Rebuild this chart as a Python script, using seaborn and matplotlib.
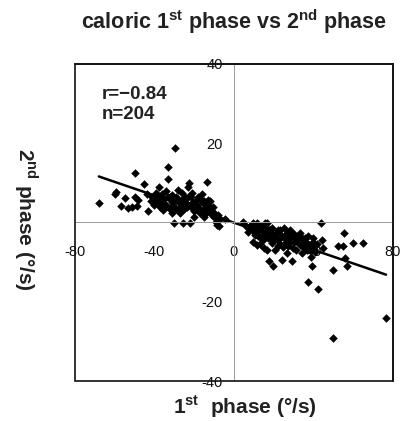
import matplotlib
matplotlib.use("Agg")
import matplotlib.pyplot as plt
import numpy as np
import pandas as pd
import seaborn as sns
from matplotlib.patches import Rectangle

# first phase (deg/s) and second phase (deg/s)
phase1_left = [
    -68, -60, -59.4, -57, -54.9, -53.2, -51.5, -49.8, -49.8, -49, -48.2, -45.3,
    -44, -43.1, -41.4, -39.8, -38.6, -37.6, -37.2, -36.4, -35.9, -33.4, -33.4,
    -32.2, -31.4, -30.5, -30, -29.7, -29.2, -28, -27.2, -26.3, -25.8, -24.7,
    -23.8, -23, -22.5, -22.1, -21.8, -21.3, -20.5, -19.6, -18.8, -18, -17.1,
    -16.3, -15.4, -14.6, -13.4, -12.9, -12.1, -11.2, -10.4, -10.1, -9.1, -8.4,
    -7.6, -7, -4.5,
    -42, -40, -39, -38, -37, -36, -35, -34, -34, -33, -32, -31, -30, -29, -28,
    -27, -26, -25, -24, -23, -22, -21, -20, -19, -18, -17, -16, -15, -14, -13,
    -12, -11, -10, -9, -8, -35.5, -31, -27, -20, -15,
]
phase2_left = [
    5.0, 7.3, 7.8, 4.2, 6.3, 3.6, 4.0, 12.5, 6.5, 4.1, 5.7, 9.8,
    7.3, 3.0, 6.5, 6.1, 5.2, 9.0, 4.0, 7.3, 3.1, 14.0, 11.1,
    6.5, 5.2, 4.4, -0.2, 18.8, 6.5, 8.2, 4.0, 5.7, -0.2, 6.5,
    4.0, 9.0, 10.0, -0.2, 6.5, 3.6, 5.2, 3.1, 4.4, 6.5, 2.3,
    7.3, 4.8, 3.6, 10.3, 5.7, 3.1, 1.9, 4.0, 1.5, 0.2, -0.6,
    -1.0, 1.0, 0.8,
    5.5, 4.5, 7.5, 6.5, 5.5, 5.0, 6.0, 4.5, 8.0, 6.5, 3.5, 7.0, 5.5, 3.5, 6.0,
    5.0, 7.5, 3.5, 5.0, 6.5, 4.5, 7.5, 3.0, 5.5, 4.0, 6.0, 3.0, 5.5, 2.5, 4.5,
    5.5, 3.0, 2.5, 1.5, 2.0, 3.5, 2.5, 2.5, 1.5, 1.5,
]
phase1_right = [
    4.7, 8.9, 9.4, 9.7, 10.6, 11.4, 11.7, 12.2, 13.1, 13.9, 14.8, 15.6, 16.1,
    16.4, 16.8, 17.3, 17.8, 18.1, 19, 19.5, 19.8, 20.6, 21.5, 22.3, 23.2, 24,
    24.8, 25.7, 26.5, 27.3, 27.9, 28.2, 29, 29.9, 30.7, 31.5, 33.2, 34.1, 34.9,
    35.7, 36.6, 37.4, 37.9, 38.6, 39.1, 39.6, 40.3, 42.4, 43.6, 44.1, 44.6,
    49.7, 49.7, 52.5, 54.7, 55.5, 55.9, 56.7, 59.7, 64.8, 76.5,
    6, 7, 8, 10, 11, 12, 13, 14, 15, 16, 17, 18, 19, 20, 21, 22, 23, 24, 25,
    26, 27, 28, 29, 30, 31, 32, 33, 34, 35, 36, 37, 38, 39, 40, 41, 42, 13, 15,
    18, 22, 26, 30,
]
phase2_right = [
    0.0, -1.9, -0.2, -4.8, -3.1, -0.2, -5.7, -1.9, -3.6, -1.0, -4.4, -0.2, -2.7,
    -0.2, -6.9, -4.0, -9.8, -1.9, -5.2, -11.1, -3.1, -6.9, -2.3, -4.4, -1.9, -9.4,
    -6.1, -3.6, -7.8, -2.3, -5.2, -1.9, -9.8, -6.5, -3.6, -4.4, -2.7, -7.8, -5.2,
    -4.0, -6.9, -14.9, -5.7, -8.7, -10.9, -4.0, -6.8, -16.8, -0.2, -4.4, -6.5,
    -11.9, -29.1, -5.9, -5.9, -2.6, -9.0, -10.9, -5.1, -5.1, -24.1,
    -1.0, -2.5, -0.8, -1.5, -2.8, -3.5, -0.8, -2.2, -3.3, -1.2, -2.5, -3.8, -1.5,
    -4.5, -3.0, -2.0, -5.5, -3.3, -1.5, -4.8, -6.0, -3.8, -2.8, -5.0, -7.0, -3.3,
    -5.8, -4.0, -6.5, -5.0, -3.5, -7.0, -6.0, -5.0, -7.5, -5.5, -5.5, -6.5, -2.0,
    -6.0, -2.8, -3.0,
]

x_ticks = [-80, -40, 0, 40, 80]
y_ticks = [-40, -20, 20, 40]
stats_text = "r=\u22120.84\nn=204"

df = pd.DataFrame({
    "phase1": phase1_left + phase1_right,
    "phase2": phase2_left + phase2_right,
})

sns.set_style("white")
plt.rcParams["font.family"] = ["Liberation Sans", "DejaVu Sans"]
plt.rcParams["mathtext.fontset"] = "custom"
plt.rcParams["mathtext.bf"] = "Liberation Sans:bold"
plt.rcParams["mathtext.rm"] = "Liberation Sans"

fig = plt.figure(figsize=(4.01, 4.21), dpi=100)
ax = fig.add_axes([0.187, 0.095, 0.793, 0.753])

sns.regplot(
    data=df, x="phase1", y="phase2", ax=ax, ci=None, truncate=True,
    marker="D",
    scatter_kws={"s": 19, "color": "#000000", "linewidths": 0, "alpha": 1},
    line_kws={"color": "#000000", "lw": 1.8},
)

ax.set_xlim(-80, 80)
ax.set_ylim(-40, 40)

# axes through the origin, outer frame drawn separately
ax.spines["left"].set_position(("data", 0))
ax.spines["bottom"].set_position(("data", 0))
for side in ["left", "bottom"]:
    ax.spines[side].set_color("#999999")
    ax.spines[side].set_linewidth(0.7)
for side in ["top", "right"]:
    ax.spines[side].set_color("#111111")
    ax.spines[side].set_linewidth(1.2)
ax.add_patch(Rectangle((0, 0), 1, 1, transform=ax.transAxes, fill=False,
                       edgecolor="#111111", lw=1.2, clip_on=False, zorder=5))

ax.set_xticks(x_ticks)
ax.set_xticklabels([str(v) for v in x_ticks], fontsize=10.5)
ax.set_yticks(y_ticks)
ax.set_yticklabels([str(v) for v in y_ticks], fontsize=10.5)
ax.tick_params(axis="x", direction="in", length=4, width=0.7, color="#999999",
               pad=16, labelcolor="#111111")
ax.tick_params(axis="y", direction="in", length=4, width=0.7, color="#999999",
               pad=8, labelcolor="#111111")

ax.set_xlabel(r"1$^{\mathbf{st}}$  phase (°/s)", fontsize=15, fontweight="bold",
              color="#222222", va="center")
ax.xaxis.set_label_coords(0.535, -0.082)
ax.set_ylabel(r"2$^{\mathbf{nd}}$ phase (°/s)", fontsize=15, fontweight="bold",
              color="#222222", rotation=-90, va="center", ha="center")
ax.yaxis.set_label_coords(-0.155, 0.51)

ax.set_title(r"caloric 1$^{\mathbf{st}}$ phase vs 2$^{\mathbf{nd}}$ phase",
             fontsize=15.5, fontweight="bold", color="#222222", pad=25)

ax.text(0.085, 0.93, stats_text, transform=ax.transAxes, fontsize=13.5,
        fontweight="bold", color="#222222", va="top", ha="left", linespacing=1.2)

fig.savefig("out.png", dpi=100)
